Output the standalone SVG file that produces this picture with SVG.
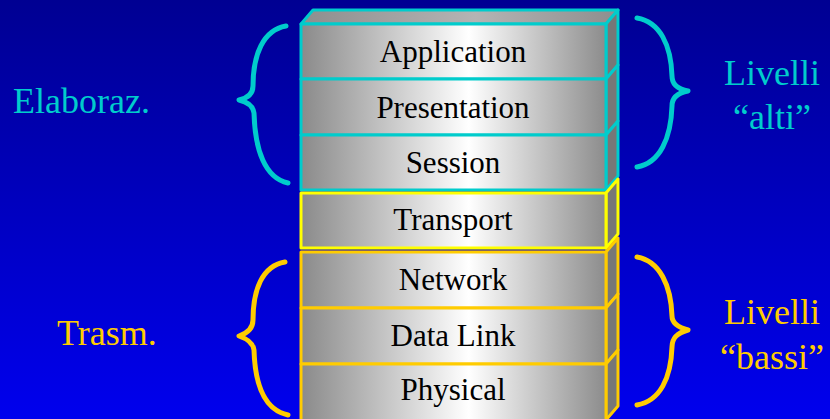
<svg xmlns="http://www.w3.org/2000/svg" width="830" height="419" viewBox="0 0 830 419">
<defs>
<linearGradient id="bg" x1="0" y1="0" x2="0" y2="1">
<stop offset="0" stop-color="#000092"/>
<stop offset="1" stop-color="#0000EE"/>
</linearGradient>
<linearGradient id="face" x1="0" y1="0" x2="1" y2="0">
<stop offset="0" stop-color="#8a8a8a"/>
<stop offset="0.55" stop-color="#ffffff"/>
<stop offset="1" stop-color="#8c8c8c"/>
</linearGradient>
<linearGradient id="topf" x1="0" y1="0" x2="1" y2="0">
<stop offset="0" stop-color="#8e8e8e"/>
<stop offset="0.55" stop-color="#b4b4b4"/>
<stop offset="1" stop-color="#8e8e8e"/>
</linearGradient>
</defs>
<style>
text{font-family:'Liberation Serif','Times New Roman',Times,Tinos,'Nimbus Roman','Noto Serif','DejaVu Serif',serif}
.front{fill:url(#face);stroke-width:3;stroke-linejoin:round}
.side{fill:#777777;stroke-width:3;stroke-linejoin:round}
.top{fill:url(#topf);stroke-width:3;stroke-linejoin:round}
.c{stroke:#00CCCC}
.y{stroke:#FFFF00}
.g{stroke:#FFCC00}
.lbl{font-size:31px;fill:#000;text-anchor:middle}
.side-lbl{font-size:36px}
.brace{fill:none;stroke-width:5;stroke-linecap:round;stroke-linejoin:round}
</style>
<rect x="0" y="0" width="830" height="419" fill="url(#bg)"/>

<g id="application">
<polygon class="top c" points="301,24 313,10 618,10 606,24"/>
<polygon class="side c" points="606,24 618,10 618,65 606,79"/>
<rect class="front c" x="301" y="24" width="305" height="55"/>
<text class="lbl" x="453" y="62">Application</text>
</g>
<g id="presentation">
<polygon class="side c" points="606,79 618,65 618,121 606,135"/>
<rect class="front c" x="301" y="79" width="305" height="56"/>
<text class="lbl" x="453" y="118">Presentation</text>
</g>
<g id="session">
<polygon class="side c" points="606,135 618,121 618,176 606,190"/>
<rect class="front c" x="301" y="135" width="305" height="55"/>
<text class="lbl" x="453" y="173">Session</text>
</g>
<g id="transport">
<polygon class="side y" points="606,193 618,179 618,234 606,248"/>
<rect class="front y" x="301" y="193" width="305" height="55"/>
<text class="lbl" x="453" y="230">Transport</text>
</g>
<g id="network">
<polygon class="side g" points="606,252 618,238 618,294 606,308"/>
<rect class="front g" x="301" y="252" width="305" height="56"/>
<text class="lbl" x="453" y="290">Network</text>
</g>
<g id="datalink">
<polygon class="side g" points="606,308 618,294 618,350 606,364"/>
<rect class="front g" x="301" y="308" width="305" height="56"/>
<text class="lbl" x="453" y="346">Data Link</text>
</g>
<g id="physical">
<polygon class="side g" points="606,364 618,350 618,406 606,420"/>
<rect class="front g" x="301" y="364" width="305" height="58"/>
<text class="lbl" x="453" y="400">Physical</text>
</g>

<g id="connectors">
<path class="brace" stroke="#00CCCC" d="M286,26 C263,30 253,55 253,86 C253,94 248,98 239,100 C248,102 253,106 254,113 C255,150 265,178 288,183"/>
<path class="brace" stroke="#00CCCC" d="M637,18 C660,22 671,45 672,76 C672,84 677,89 688,91 C677,93 672,98 672,106 C671,138 660,163 637,167"/>
<path class="brace" stroke="#FFCC00" d="M285,262 C262,266 253,290 253,320 C253,328 248,333 239,336 C248,339 253,343 254,350 C255,385 265,410 288,415"/>
<path class="brace" stroke="#FFCC00" d="M637,257 C660,261 671,286 672,316 C672,323 677,327 688,330 C677,333 672,338 672,347 C671,378 660,401 637,405"/>
</g>

<g id="label-elaboraz">
<text class="side-lbl" x="13" y="113" fill="#00CCCC">Elaboraz.</text>
</g>
<g id="label-trasm">
<text class="side-lbl" x="57" y="345" fill="#FFCC00">Trasm.</text>
</g>
<g id="label-alti">
<text class="side-lbl" x="772" y="85" fill="#00CCCC" text-anchor="middle">Livelli</text>
<text class="side-lbl" x="772" y="129" fill="#00CCCC" text-anchor="middle">“alti”</text>
</g>
<g id="label-bassi">
<text class="side-lbl" x="772" y="324" fill="#FFCC00" text-anchor="middle">Livelli</text>
<text class="side-lbl" x="772" y="369" fill="#FFCC00" text-anchor="middle">“bassi”</text>
</g>
</svg>
